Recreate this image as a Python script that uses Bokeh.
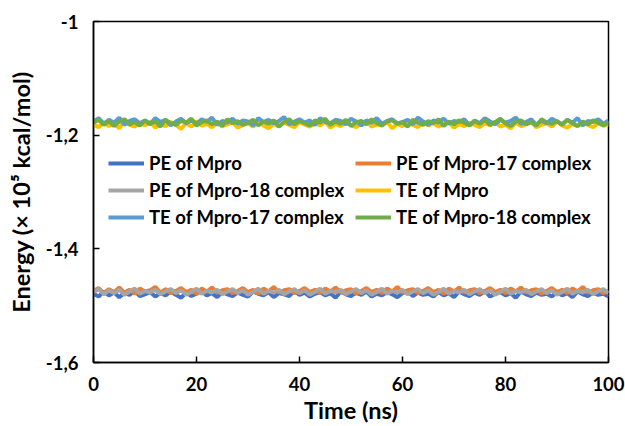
from bokeh.plotting import figure
from bokeh.models import Range1d, FixedTicker, CustomJSTickFormatter, Legend, LegendItem
from bokeh.embed import file_html
from bokeh.resources import INLINE

time_ns = list(range(0, 101))

pe_mpro = [-1.479,-1.484,-1.475,-1.482,-1.477,-1.485,-1.478,-1.481,-1.474,-1.483,
-1.480,-1.476,-1.484,-1.478,-1.482,-1.475,-1.481,-1.486,-1.477,-1.483,
-1.479,-1.474,-1.482,-1.478,-1.485,-1.476,-1.480,-1.483,-1.477,-1.481,
-1.484,-1.475,-1.479,-1.482,-1.476,-1.485,-1.478,-1.480,-1.483,-1.474,
-1.481,-1.477,-1.484,-1.479,-1.476,-1.482,-1.478,-1.486,-1.475,-1.480,
-1.483,-1.477,-1.481,-1.475,-1.484,-1.479,-1.482,-1.476,-1.480,-1.485,
-1.478,-1.474,-1.483,-1.477,-1.481,-1.479,-1.484,-1.476,-1.482,-1.478,
-1.485,-1.475,-1.480,-1.483,-1.477,-1.481,-1.474,-1.484,-1.479,-1.476,
-1.482,-1.478,-1.486,-1.475,-1.480,-1.483,-1.477,-1.481,-1.479,-1.484,
-1.476,-1.482,-1.478,-1.485,-1.475,-1.480,-1.483,-1.477,-1.481,-1.479,
-1.484]

pe_mpro17 = [-1.474,-1.469,-1.478,-1.471,-1.476,-1.468,-1.477,-1.472,-1.479,-1.470,
-1.475,-1.473,-1.467,-1.477,-1.471,-1.478,-1.474,-1.469,-1.476,-1.472,
-1.479,-1.470,-1.475,-1.468,-1.477,-1.473,-1.471,-1.478,-1.474,-1.469,
-1.476,-1.472,-1.479,-1.470,-1.475,-1.467,-1.477,-1.473,-1.471,-1.478,
-1.474,-1.469,-1.476,-1.472,-1.478,-1.470,-1.475,-1.468,-1.477,-1.473,
-1.471,-1.479,-1.474,-1.469,-1.476,-1.472,-1.478,-1.470,-1.475,-1.467,
-1.477,-1.473,-1.471,-1.478,-1.474,-1.469,-1.476,-1.472,-1.479,-1.470,
-1.475,-1.468,-1.477,-1.473,-1.471,-1.478,-1.474,-1.469,-1.476,-1.472,
-1.478,-1.470,-1.475,-1.468,-1.477,-1.473,-1.471,-1.479,-1.474,-1.469,
-1.476,-1.472,-1.478,-1.470,-1.475,-1.467,-1.477,-1.473,-1.471,-1.478,
-1.474]

pe_mpro18 = [-1.476,-1.471,-1.480,-1.473,-1.478,-1.472,-1.481,-1.475,-1.470,-1.479,
-1.474,-1.477,-1.472,-1.480,-1.475,-1.471,-1.478,-1.473,-1.481,-1.476,
-1.470,-1.479,-1.474,-1.477,-1.472,-1.480,-1.475,-1.471,-1.478,-1.473,
-1.481,-1.476,-1.470,-1.479,-1.474,-1.477,-1.472,-1.480,-1.475,-1.471,
-1.478,-1.473,-1.481,-1.476,-1.470,-1.479,-1.474,-1.477,-1.472,-1.480,
-1.475,-1.471,-1.478,-1.473,-1.481,-1.476,-1.470,-1.479,-1.474,-1.477,
-1.472,-1.480,-1.475,-1.471,-1.478,-1.473,-1.481,-1.476,-1.470,-1.479,
-1.474,-1.477,-1.472,-1.480,-1.475,-1.471,-1.478,-1.473,-1.481,-1.476,
-1.470,-1.479,-1.474,-1.477,-1.472,-1.480,-1.475,-1.471,-1.478,-1.473,
-1.481,-1.476,-1.470,-1.479,-1.474,-1.477,-1.472,-1.480,-1.475,-1.471,
-1.478]

te_mpro = [-1.181,-1.186,-1.177,-1.184,-1.179,-1.188,-1.175,-1.182,-1.185,-1.178,
-1.183,-1.176,-1.187,-1.180,-1.184,-1.177,-1.182,-1.189,-1.179,-1.185,
-1.176,-1.183,-1.180,-1.186,-1.178,-1.184,-1.181,-1.177,-1.187,-1.182,
-1.179,-1.185,-1.176,-1.183,-1.188,-1.180,-1.184,-1.178,-1.182,-1.186,
-1.177,-1.181,-1.185,-1.179,-1.183,-1.176,-1.187,-1.180,-1.184,-1.178,
-1.182,-1.186,-1.179,-1.175,-1.185,-1.181,-1.183,-1.177,-1.188,-1.180,
-1.184,-1.178,-1.182,-1.186,-1.176,-1.183,-1.179,-1.185,-1.181,-1.177,
-1.187,-1.180,-1.184,-1.178,-1.182,-1.186,-1.179,-1.183,-1.176,-1.185,
-1.181,-1.188,-1.178,-1.184,-1.180,-1.177,-1.186,-1.182,-1.179,-1.185,
-1.176,-1.183,-1.187,-1.180,-1.184,-1.178,-1.182,-1.186,-1.179,-1.183,
-1.181]

te_mpro17 = [-1.176,-1.170,-1.180,-1.173,-1.178,-1.169,-1.182,-1.175,-1.172,-1.179,
-1.174,-1.181,-1.170,-1.177,-1.173,-1.183,-1.176,-1.171,-1.179,-1.174,
-1.180,-1.172,-1.177,-1.169,-1.182,-1.175,-1.178,-1.171,-1.180,-1.174,
-1.176,-1.183,-1.170,-1.177,-1.173,-1.179,-1.175,-1.168,-1.181,-1.176,
-1.172,-1.178,-1.174,-1.182,-1.170,-1.177,-1.179,-1.173,-1.175,-1.181,
-1.171,-1.176,-1.183,-1.174,-1.178,-1.170,-1.180,-1.175,-1.172,-1.179,
-1.177,-1.173,-1.181,-1.169,-1.176,-1.182,-1.174,-1.178,-1.171,-1.180,
-1.175,-1.177,-1.172,-1.183,-1.174,-1.179,-1.170,-1.176,-1.181,-1.173,
-1.178,-1.175,-1.169,-1.180,-1.177,-1.172,-1.182,-1.174,-1.179,-1.171,
-1.176,-1.181,-1.173,-1.178,-1.170,-1.183,-1.175,-1.177,-1.172,-1.180,
-1.174]

te_mpro18 = [-1.178,-1.173,-1.182,-1.175,-1.184,-1.176,-1.172,-1.181,-1.177,-1.183,
-1.174,-1.180,-1.176,-1.185,-1.173,-1.179,-1.182,-1.175,-1.178,-1.171,
-1.183,-1.177,-1.174,-1.181,-1.176,-1.184,-1.172,-1.179,-1.175,-1.182,
-1.178,-1.173,-1.183,-1.176,-1.180,-1.174,-1.185,-1.177,-1.172,-1.181,
-1.175,-1.179,-1.183,-1.174,-1.178,-1.171,-1.182,-1.176,-1.180,-1.173,
-1.184,-1.177,-1.175,-1.181,-1.172,-1.179,-1.183,-1.176,-1.174,-1.180,
-1.177,-1.185,-1.173,-1.178,-1.182,-1.175,-1.179,-1.172,-1.184,-1.176,
-1.181,-1.174,-1.178,-1.183,-1.175,-1.180,-1.173,-1.182,-1.177,-1.171,
-1.179,-1.184,-1.176,-1.174,-1.181,-1.177,-1.183,-1.172,-1.178,-1.180,
-1.175,-1.182,-1.173,-1.179,-1.184,-1.176,-1.181,-1.174,-1.178,-1.183,
-1.177]

x_ticks = [0, 20, 40, 60, 80, 100]
y_ticks = [-1.6, -1.4, -1.2, -1.0]

series = [
    ("PE of Mpro", pe_mpro, "#4472C4"),
    ("PE of Mpro-17 complex", pe_mpro17, "#ED7D31"),
    ("PE of Mpro-18 complex", pe_mpro18, "#A5A5A5"),
    ("TE of Mpro", te_mpro, "#FFC000"),
    ("TE of Mpro-17 complex", te_mpro17, "#5B9BD5"),
    ("TE of Mpro-18 complex", te_mpro18, "#70AD47"),
]

FONT = "Lato"

p = figure(width=625, height=426, output_backend="svg", toolbar_location=None,
           x_range=Range1d(0, 100), y_range=Range1d(-1.6, -1.0),
           min_border_left=93, min_border_top=21, min_border_right=17, min_border_bottom=63)
p.background_fill_color = "white"
p.border_fill_color = "white"
p.outline_line_color = "black"
p.outline_line_width = 1.5
p.grid.visible = False

renderers = {}
for name, vals, col in series:
    r = p.line(time_ns, vals, line_color=col, line_width=4)
    renderers[name] = r

for ax in (p.xaxis[0], p.yaxis[0]):
    ax.axis_line_color = "black"
    ax.axis_line_width = 1.5
    ax.major_tick_line_color = "black"
    ax.major_tick_line_width = 1.5
    ax.major_tick_in = 6
    ax.major_tick_out = 0
    ax.minor_tick_line_color = None
    ax.major_label_text_font = FONT
    ax.major_label_text_font_style = "bold"
    ax.major_label_text_font_size = "18.5px"
    ax.major_label_text_color = "black"
    ax.axis_label_text_font = FONT
    ax.axis_label_text_font_style = "bold"
    ax.axis_label_text_font_size = "23.5px"
    ax.axis_label_text_color = "black"

p.xaxis.ticker = FixedTicker(ticks=x_ticks)
p.yaxis.ticker = FixedTicker(ticks=y_ticks)
p.yaxis.formatter = CustomJSTickFormatter(code="""
var s = tick.toFixed(1).replace('.', ',');
if (s.endsWith(',0')) { s = s.slice(0, -2); }
return s;
""")
p.xaxis.axis_label = "Time (ns)"
p.yaxis.axis_label = "Energy (\u00d7 10\u2075 kcal/mol)"
p.xaxis.major_label_standoff = 14
p.xaxis.axis_label_standoff = 2
p.yaxis.major_label_standoff = 15
p.yaxis.axis_label_standoff = 8

def make_legend(names, x):
    leg = Legend(items=[LegendItem(label=n, renderers=[renderers[n]]) for n in names],
                 location=(x, 134))
    leg.background_fill_alpha = 0
    leg.border_line_color = None
    leg.padding = 0
    leg.margin = 0
    leg.spacing = 5
    leg.glyph_width = 36
    leg.glyph_height = 20
    leg.label_height = 20
    leg.label_standoff = 5
    leg.label_text_font = FONT
    leg.label_text_font_style = "bold"
    leg.label_text_font_size = "18.5px"
    leg.label_text_color = "black"
    return leg

p.add_layout(make_legend(["PE of Mpro", "PE of Mpro-18 complex", "TE of Mpro-17 complex"], 15))
p.add_layout(make_legend(["PE of Mpro-17 complex", "TE of Mpro", "TE of Mpro-18 complex"], 262))

open("out.html", "w").write(file_html(p, INLINE))
